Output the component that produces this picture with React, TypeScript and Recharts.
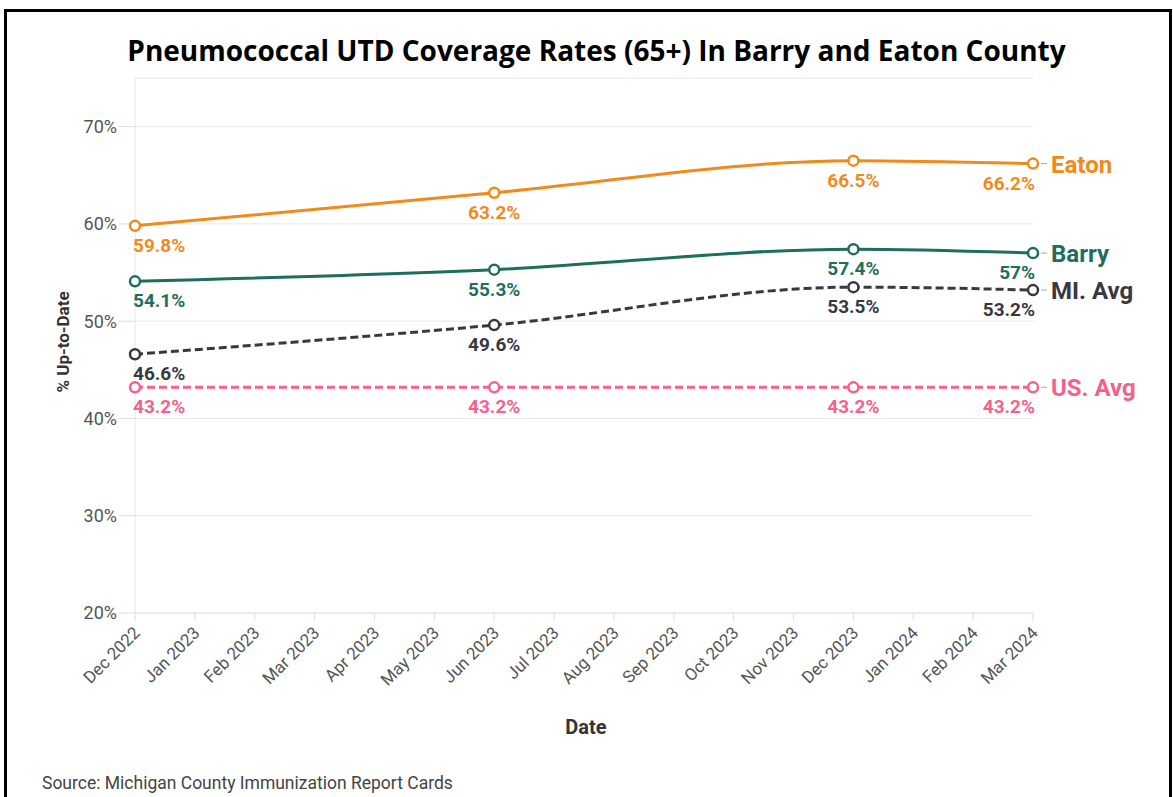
import React from 'react';
import { LineChart, Line, XAxis, YAxis, CartesianGrid, LabelList } from 'recharts';

const FONT = 'Roboto, "Noto Sans", sans-serif';

const monthLabels = [
    'Dec 2022', 'Jan 2023', 'Feb 2023', 'Mar 2023', 'Apr 2023', 'May 2023', 'Jun 2023', 'Jul 2023',
    'Aug 2023', 'Sep 2023', 'Oct 2023', 'Nov 2023', 'Dec 2023', 'Jan 2024', 'Feb 2024', 'Mar 2024',
];
// month index (from Dec 2022) of each report card
const reportMonths = [0, 6, 12, 15];

const eaton = [59.8, 63.2, 66.5, 66.2];
const barry = [54.1, 55.3, 57.4, 57];
const miAvg = [46.6, 49.6, 53.5, 53.2];
const usAvg = [43.2, 43.2, 43.2, 43.2];

const yTicks = [20, 30, 40, 50, 60, 70];

const data = reportMonths.map((m, i) => ({
    m,
    eaton: eaton[i],
    barry: barry[i],
    mi: miAvg[i],
    us: usAvg[i],
}));

const series = [
    { key: 'eaton', name: 'Eaton', color: '#F28A1B', dash: undefined },
    { key: 'barry', name: 'Barry', color: '#1E6E5D', dash: undefined },
    { key: 'mi', name: 'MI. Avg', color: '#383842', dash: '8 4' },
    { key: 'us', name: 'US. Avg', color: '#F7608A', dash: '8 4' },
];

const lastIndex = reportMonths.length - 1;

const valueLabel = (color: string, name: string) => (props: any) => {
    const { x, y, value, index } = props;
    const anchor = index === 0 ? 'start' : index === lastIndex ? 'end' : 'middle';
    return (
        <g>
            <text
                x={index === 0 ? x - 2 : index === lastIndex ? x + 2 : x}
                y={y + 26}
                textAnchor={anchor}
                fill={color}
                fontSize={19}
                fontWeight={700}
                fontFamily={FONT}
            >
                {value}%
            </text>
            {index === lastIndex && (
                <>
                    <line x1={x + 8} x2={x + 14} y1={y} y2={y} stroke="#aaa" strokeWidth={1} />
                    <text
                        x={x + 18}
                        y={y}
                        dy={9}
                        fill={color}
                        fontSize={24}
                        fontWeight={700}
                        fontFamily={FONT}
                    >
                        {name}
                    </text>
                </>
            )}
        </g>
    );
};

const MonthTick = (props: any) => {
    const { x, y, payload } = props;
    return (
        <text
            x={x + 6}
            y={y + 11}
            transform={`rotate(-45, ${x + 6}, ${y + 11})`}
            textAnchor="end"
            fill="#555"
            fontSize={17}
            fontFamily={FONT}
        >
            {monthLabels[payload.value]}
        </text>
    );
};

export default function App() {
    return (
        <div style={{ position: 'absolute', left: 0, top: 0, width: 1173, height: 797, background: '#fff', overflow: 'hidden' }}>
            <div style={{ position: 'absolute', left: 4, top: 9, width: 1168, height: 800, border: '3px solid #000', borderBottom: 'none', boxSizing: 'border-box' }} />
            <div
                style={{
                    position: 'absolute', left: 0, width: 1193, top: 31, textAlign: 'center',
                    fontFamily: '"Open Sans", sans-serif', fontWeight: 700, fontSize: 28, color: '#000',
                }}
            >
                Pneumococcal UTD Coverage Rates (65+) In Barry and Eaton County
            </div>
            <div
                style={{
                    position: 'absolute', left: 63, top: 342, transform: 'translate(-50%, -50%) rotate(-90deg)',
                    fontFamily: FONT, fontWeight: 700, fontSize: 17, color: '#333', whiteSpace: 'nowrap',
                }}
            >
                % Up-to-Date
            </div>
            <div
                style={{
                    position: 'absolute', left: 586, top: 727, transform: 'translate(-50%, -50%)',
                    fontFamily: FONT, fontWeight: 700, fontSize: 20, color: '#333',
                }}
            >
                Date
            </div>
            <div style={{ position: 'absolute', left: 42, top: 773, fontFamily: FONT, fontSize: 17.5, color: '#444' }}>
                Source: Michigan County Immunization Report Cards
            </div>
            <div style={{ position: 'absolute', left: 0, top: 0 }}>
                <LineChart width={1173} height={797} data={data} margin={{ top: 78, right: 140, bottom: 124, left: 85 }}>
                    <CartesianGrid vertical={false} stroke="#e6e6e6" />
                    <XAxis
                        dataKey="m"
                        type="number"
                        domain={[0, 15]}
                        ticks={monthLabels.map((_, i) => i)}
                        tick={<MonthTick />}
                        tickLine={{ stroke: '#ddd' }}
                        tickSize={8}
                        axisLine={{ stroke: '#e6e6e6' }}
                        height={60}
                        interval={0}
                    />
                    <YAxis
                        type="number"
                        domain={[20, 75]}
                        ticks={yTicks}
                        tickFormatter={(v) => `${v}%`}
                        tick={{ fill: '#555', fontSize: 18, fontFamily: FONT }}
                        tickLine={{ stroke: '#ddd' }}
                        tickSize={16}
                        axisLine={{ stroke: '#e6e6e6' }}
                        width={50}
                    />
                    {series.map((s) => (
                        <Line
                            key={s.key}
                            dataKey={s.key}
                            type="monotone"
                            stroke={s.color}
                            strokeWidth={3}
                            strokeDasharray={s.dash}
                            dot={{ r: 5, fill: '#fff', stroke: s.color, strokeWidth: 2.5, strokeDasharray: '' }}
                            isAnimationActive={false}
                        >
                            <LabelList dataKey={s.key} content={valueLabel(s.color, s.name)} />
                        </Line>
                    ))}
                </LineChart>
            </div>
        </div>
    );
}
